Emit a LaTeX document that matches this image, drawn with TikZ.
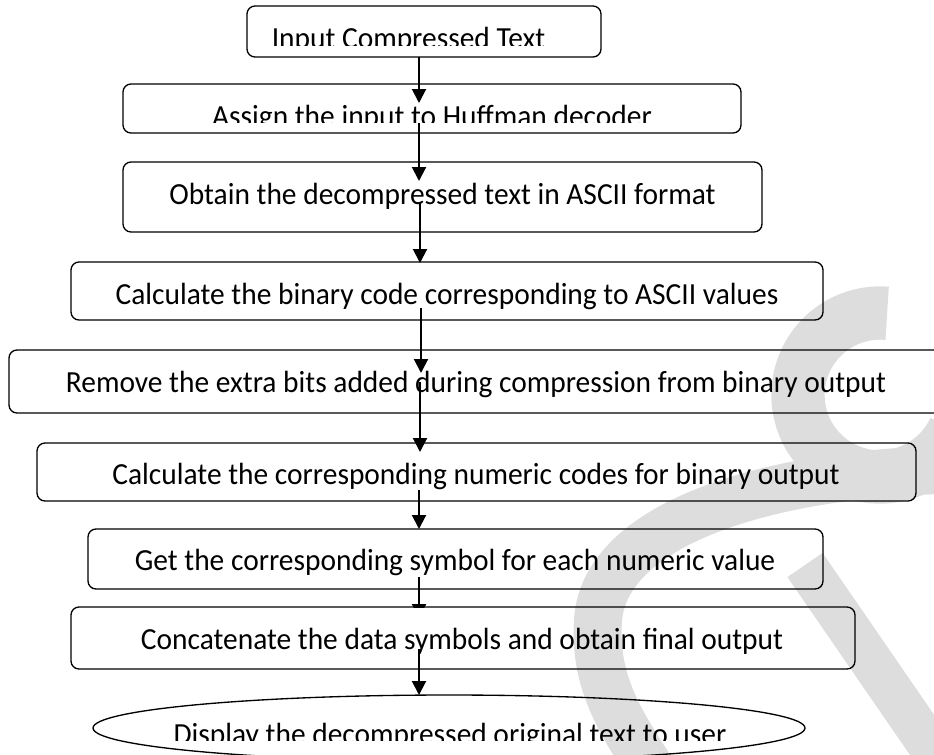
\documentclass[tikz,border=0pt]{standalone}
\usepackage{fontspec}
\setmainfont{Carlito}[FakeStretch=0.96]
\usetikzlibrary{arrows.meta,shapes.geometric}

\definecolor{markgray}{RGB}{221,221,221}

\tikzset{
  stepbox/.style={draw=black, line width=1pt, rounded corners=6pt,
    inner sep=0pt, fill=none},
  endbox/.style={ellipse, draw=black, line width=1pt, inner sep=0pt},
  lbl/.style={anchor=base, inner sep=0pt, font=\fontsize{23}{28}\selectfont},
  flow/.style={line width=1.5pt, -{Triangle[length=10.5pt,width=10.5pt]}}
}

\begin{document}
\begin{tikzpicture}[x=0.75pt, y=-0.75pt]
\useasboundingbox (0,0) rectangle (934,754);
\clip (0,0) rectangle (934,754);

% background emblem
\draw[markgray, line width=40pt]
  plot[domain=85:335, samples=90] ({880+82*cos(\x)},{395-82*sin(\x)});
\draw[markgray, line width=36pt]
  (950,470) .. controls (780,472) and (605,520) .. (598,620)
            .. controls (594,680) and (618,720) .. (655,775);
\draw[markgray, line width=32pt] (805,565) -- (960,790);

% process boxes
\node[stepbox, minimum width=265.5pt,  minimum height=38.25pt] (b1) at (424,31.5) {};
\node[stepbox, minimum width=463.5pt,  minimum height=36.75pt] (b2) at (432,108.5) {};
\node[stepbox, minimum width=479.25pt, minimum height=52.5pt]  (b3) at (442.5,197) {};
\node[stepbox, minimum width=564pt,    minimum height=43.5pt]  (b4) at (447,291) {};
\node[stepbox, minimum width=702pt,    minimum height=47.25pt] (b5) at (477,381.5) {};
\node[stepbox, minimum width=659.25pt, minimum height=43.5pt]  (b6) at (476.5,472) {};
\node[stepbox, minimum width=551.25pt, minimum height=45pt]    (b7) at (455.5,559) {};
\node[stepbox, minimum width=588pt,    minimum height=46.5pt]  (b8) at (463,638) {};
\node[endbox,  minimum width=534pt,    minimum height=49.5pt]  (e9) at (449,728) {};

% box texts (the first two and the last are cut off by their boxes)
\begin{scope}
  \clip (0,0) rectangle (934,45);
  \node[lbl] (t1) at (408.5,48.5) {Input Compressed Text};
\end{scope}
\begin{scope}
  \clip (0,84) rectangle (934,122);
  \node[lbl] (t2) at (432,126.5) {Assign the input to Huffman decoder};
\end{scope}
\node[lbl] (t3) at (442.5,204) {Obtain the decompressed text in ASCII format};
\node[lbl] (t4) at (447,304) {Calculate the binary code corresponding to ASCII values};
\node[lbl] (t5) at (476,392) {Remove the extra bits added during compression from binary output};
\node[lbl] (t6) at (476,484) {Calculate the corresponding numeric codes for binary output};
\node[lbl] (t7) at (455,570) {Get the corresponding symbol for each numeric value};
\node[lbl] (t8) at (462,649) {Concatenate the data symbols and obtain final output};
\begin{scope}
  \clip (0,695) rectangle (934,740);
  \node[lbl] (t9) at (450,744) {Display the decompressed original text to user};
\end{scope}

% connector ends
\coordinate (a1s) at (419,57);  \coordinate (a1e) at (419,103);
\coordinate (a2s) at (419,123); \coordinate (a2e) at (419,181);
\coordinate (a3s) at (420,203); \coordinate (a3e) at (420,263);
\coordinate (a4s) at (421,308); \coordinate (a4e) at (421,373);
\coordinate (a5s) at (420,382); \coordinate (a5e) at (420,452);
\coordinate (a6s) at (419,490); \coordinate (a6e) at (419,529);
\coordinate (a7s) at (419,577); \coordinate (a7e) at (419,618);
\coordinate (a8s) at (419,649); \coordinate (a8e) at (419,695);

\draw[flow] (a1s) -- (a1e);
\draw[flow] (a2s) -- (a2e);
\draw[flow] (a3s) -- (a3e);
\draw[flow] (a4s) -- (a4e);
\draw[flow] (a5s) -- (a5e);
\draw[flow] (a6s) -- (a6e);
\begin{scope}
  \clip (0,0) rectangle (934,607);
  \draw[flow] (a7s) -- (a7e);
\end{scope}
\draw[flow] (a8s) -- (a8e);
\end{tikzpicture}
\end{document}
